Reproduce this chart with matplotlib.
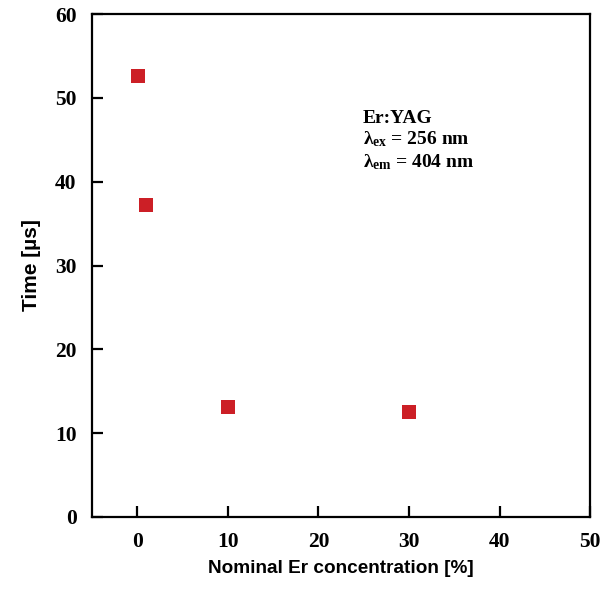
"""
Er:YAG decay time vs nominal Er concentration.
"""
import matplotlib
matplotlib.use("Agg")
import matplotlib.pyplot as plt

OUTPUT = "out.png"

# Data
er_conc = [0.1, 1, 10, 30]          # nominal Er concentration [%]
decay_time = [52.6, 37.2, 13.1, 12.5]  # time [us]

x_ticks = [0, 10, 20, 30, 40, 50]
y_ticks = [0, 10, 20, 30, 40, 50, 60]

MARKER_COLOR = "#cc1f26"

plt.rcParams["mathtext.fontset"] = "custom"
plt.rcParams["mathtext.rm"] = "Liberation Serif:bold"
plt.rcParams["mathtext.bf"] = "Liberation Serif:bold"
plt.rcParams["mathtext.it"] = "Liberation Serif:bold:italic"


def main():
    fig = plt.figure(figsize=(6.01, 5.90), dpi=100)
    ax = fig.add_axes([0.153, 0.124, 0.829, 0.852])

    ax.plot(er_conc, decay_time, linestyle="none", marker="s",
            markersize=9.5, color=MARKER_COLOR, markeredgewidth=0)

    ax.set_xlim(-5, 50)
    ax.set_ylim(0, 60)
    ax.set_xticks(x_ticks)
    ax.set_yticks(y_ticks)

    for spine in ax.spines.values():
        spine.set_linewidth(1.6)

    ax.tick_params(direction="in", length=8, width=1.6,
                   top=False, right=False)
    ax.tick_params(axis="x", pad=11)
    ax.tick_params(axis="y", pad=11)
    for lbl in ax.get_xticklabels() + ax.get_yticklabels():
        lbl.set_fontfamily("Liberation Serif")
        lbl.set_fontweight("bold")
        lbl.set_fontsize(15.5)

    ax.set_xlabel("Nominal Er concentration [%]", fontsize=13.7,
                  fontweight="bold", family="Liberation Sans", labelpad=6)
    ax.set_ylabel("Time [\u00b5s]", fontsize=15,
                  fontweight="bold", family="Liberation Sans", labelpad=10)

    note = ("Er:YAG\n"
            "\u03bb$_{\\mathrm{ex}}$ = 256 nm\n"
            "\u03bb$_{\\mathrm{em}}$ = 404 nm")
    ax.text(24.9, 48.6, note, fontsize=14, fontweight="bold",
            family="Liberation Serif", va="top", ha="left",
            linespacing=1.2)

    fig.savefig(OUTPUT, dpi=100)


if __name__ == "__main__":
    main()
